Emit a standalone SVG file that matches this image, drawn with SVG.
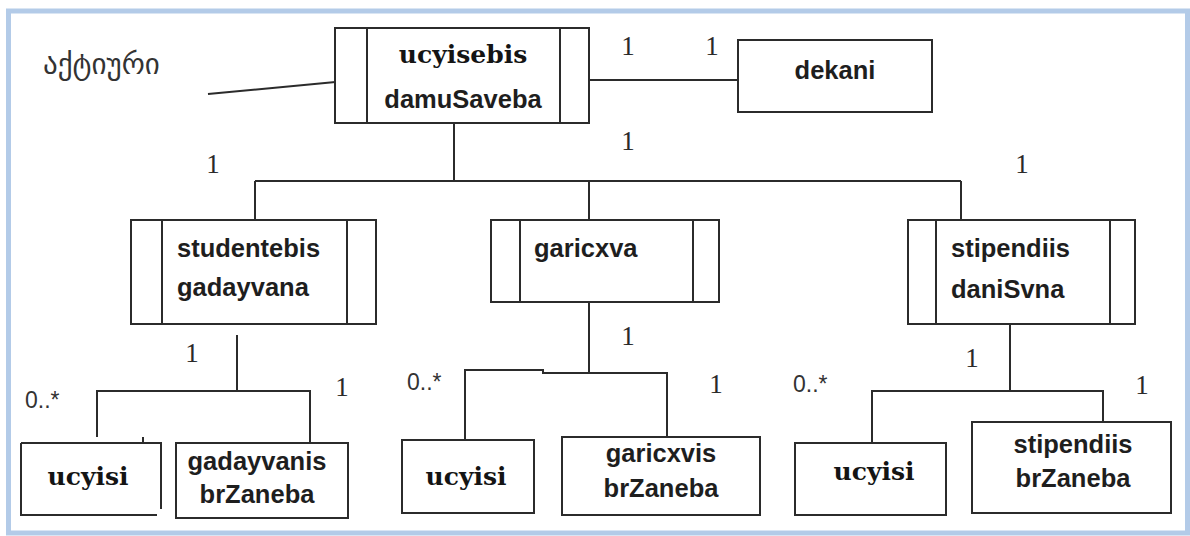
<svg xmlns="http://www.w3.org/2000/svg" width="1190" height="536" viewBox="0 0 1190 536">
  <style>
    .box { fill: #ffffff; stroke: #2b2b2b; stroke-width: 2; }
    .bar { fill: none; stroke: #2b2b2b; stroke-width: 2; }
    .wire { fill: none; stroke: #2b2b2b; stroke-width: 2; }
    .sans { font-family: "Liberation Sans", Arial, sans-serif; font-weight: bold; font-size: 25.5px; fill: #1e1e1e; }
    .serifb { font-family: "DejaVu Serif", "Liberation Serif", serif; font-weight: bold; font-size: 25px; fill: #141414; }
    .mult { font-family: "Liberation Serif", "Times New Roman", serif; font-size: 27px; fill: #2a2a2a; }
    .star { font-family: "Liberation Sans", Arial, sans-serif; font-size: 23px; fill: #333333; }
    .geo { font-family: "DejaVu Sans", "Noto Sans", sans-serif; font-size: 29px; fill: #333333; }
  </style>

  <!-- page frame -->
  <rect x="0" y="0" width="1190" height="536" fill="#ffffff"/>
  <rect x="8.5" y="11" width="1179" height="522" fill="#ffffff" stroke="#b3cbe8" stroke-width="5"/>

  <!-- connectors -->
  <g id="connectors" class="wire">
    <line x1="208" y1="94" x2="346" y2="81"/>
    <line x1="589" y1="80" x2="738" y2="80"/>
    <line x1="454" y1="123" x2="454" y2="181"/>
    <line x1="255" y1="181" x2="961" y2="181"/>
    <line x1="255" y1="181" x2="255" y2="220"/>
    <line x1="589" y1="181" x2="589" y2="220"/>
    <line x1="961" y1="181" x2="961" y2="220"/>
    <!-- studentebis gadayvana branch -->
    <polyline points="237,335 237,391"/>
    <polyline points="97,437 97,391 310,391 310,443"/>
    <line x1="143" y1="437" x2="143" y2="443"/>
    <!-- garicxva branch -->
    <polyline points="589,302 589,374"/>
    <polyline points="465,440 465,370 543,370 543,373 667,373 667,437"/>
    <!-- stipendiis daniSvna branch -->
    <polyline points="1010,324 1010,391"/>
    <polyline points="872,443 872,391 1103,391 1103,422"/>
  </g>

  <!-- actor label -->
  <text class="geo" x="43" y="74">აქტიური</text>

  <!-- use cases -->
  <g id="ucyisebis-damusaveba">
    <rect class="box" x="335" y="28" width="254" height="95"/>
    <line class="bar" x1="367" y1="28" x2="367" y2="123"/>
    <line class="bar" x1="560" y1="28" x2="560" y2="123"/>
    <text class="serifb" x="463" y="63" text-anchor="middle">ucyisebis</text>
    <text class="sans" x="463" y="108" text-anchor="middle">damuSaveba</text>
  </g>

  <g id="dekani">
    <rect class="box" x="738" y="40" width="194" height="72"/>
    <text class="sans" x="835" y="79" text-anchor="middle">dekani</text>
  </g>

  <g id="studentebis-gadayvana">
    <rect class="box" x="131" y="220" width="245" height="104"/>
    <line class="bar" x1="162" y1="220" x2="162" y2="324"/>
    <line class="bar" x1="347" y1="220" x2="347" y2="324"/>
    <text class="sans" x="177" y="257">studentebis</text>
    <text class="sans" x="177" y="296">gadayvana</text>
  </g>

  <g id="garicxva">
    <rect class="box" x="491" y="220" width="228" height="82"/>
    <line class="bar" x1="520" y1="220" x2="520" y2="302"/>
    <line class="bar" x1="693" y1="220" x2="693" y2="302"/>
    <text class="sans" x="534" y="257">garicxva</text>
  </g>

  <g id="stipendiis-danisvna">
    <rect class="box" x="908" y="220" width="227" height="104"/>
    <line class="bar" x1="936" y1="220" x2="936" y2="324"/>
    <line class="bar" x1="1110" y1="220" x2="1110" y2="324"/>
    <text class="sans" x="951" y="257">stipendiis</text>
    <text class="sans" x="951" y="298">daniSvna</text>
  </g>

  <!-- classes -->
  <g id="ucyisi-1">
    <path class="box" d="M21,443 H161 V509 M157,515 H21 V443"/>
    <text class="serifb" x="88" y="485" text-anchor="middle">ucyisi</text>
  </g>

  <g id="gadayvanis-brzaneba">
    <rect class="box" x="176" y="443" width="172" height="75"/>
    <text class="sans" x="257" y="470" text-anchor="middle">gadayvanis</text>
    <text class="sans" x="257" y="503" text-anchor="middle">brZaneba</text>
  </g>

  <g id="ucyisi-2">
    <rect class="box" x="402" y="440" width="132" height="73"/>
    <text class="serifb" x="466" y="485" text-anchor="middle">ucyisi</text>
  </g>

  <g id="garicxvis-brzaneba">
    <rect class="box" x="562" y="437" width="198" height="78"/>
    <text class="sans" x="661" y="462" text-anchor="middle">garicxvis</text>
    <text class="sans" x="661" y="497" text-anchor="middle">brZaneba</text>
  </g>

  <g id="ucyisi-3">
    <rect class="box" x="795" y="443" width="151" height="72"/>
    <text class="serifb" x="874" y="480" text-anchor="middle">ucyisi</text>
  </g>

  <g id="stipendiis-brzaneba">
    <rect class="box" x="972" y="422" width="199" height="91"/>
    <text class="sans" x="1073" y="453" text-anchor="middle">stipendiis</text>
    <text class="sans" x="1073" y="487" text-anchor="middle">brZaneba</text>
  </g>

  <!-- multiplicities -->
  <g id="multiplicities">
    <text class="mult" x="628" y="55" text-anchor="middle">1</text>
    <text class="mult" x="712" y="55" text-anchor="middle">1</text>
    <text class="mult" x="628" y="150" text-anchor="middle">1</text>
    <text class="mult" x="213" y="173" text-anchor="middle">1</text>
    <text class="mult" x="1022" y="173" text-anchor="middle">1</text>
    <text class="mult" x="192" y="362" text-anchor="middle">1</text>
    <text class="mult" x="628" y="345" text-anchor="middle">1</text>
    <text class="mult" x="972" y="367" text-anchor="middle">1</text>
    <text class="mult" x="342" y="396" text-anchor="middle">1</text>
    <text class="mult" x="716" y="393" text-anchor="middle">1</text>
    <text class="mult" x="1142" y="394" text-anchor="middle">1</text>
    <text class="star" x="25" y="408">0..*</text>
    <text class="star" x="407" y="390">0..*</text>
    <text class="star" x="793" y="392">0..*</text>
  </g>
</svg>
